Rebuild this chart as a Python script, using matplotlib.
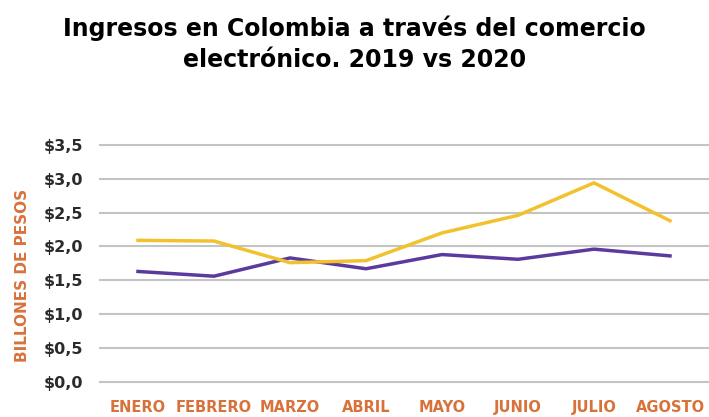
import matplotlib.pyplot as plt
import numpy as np

meses = ["ENERO", "FEBRERO", "MARZO", "ABRIL", "MAYO", "JUNIO", "JULIO", "AGOSTO"]
ingresos_2019 = [1.63, 1.56, 1.83, 1.67, 1.88, 1.81, 1.96, 1.86]
ingresos_2020 = [2.09, 2.08, 1.76, 1.79, 2.20, 2.46, 2.94, 2.38]
yticks = [0.0, 0.5, 1.0, 1.5, 2.0, 2.5, 3.0, 3.5]

naranja = "#D9713A"

fig = plt.figure(figsize=(7.09, 4.17), dpi=100)
ax = fig.add_axes([100 / 709, 1 - 381.7 / 417, 608 / 709, 236.7 / 417])

x = np.arange(len(meses))
ax.plot(x, ingresos_2019, color="#5B3A9E", linewidth=2.5, solid_joinstyle="miter")
ax.plot(x, ingresos_2020, color="#F2C22E", linewidth=2.5, solid_joinstyle="miter")

ax.set_xlim(-0.5, 7.5)
ax.set_ylim(0, 3.5)
ax.set_yticks(yticks)
ax.set_yticklabels(["$" + f"{v:.1f}".replace(".", ",") for v in yticks],
                   fontsize=11.5, color="#2b2b2b", fontweight="semibold")
ax.set_xticks(x)
ax.set_xticklabels(meses, fontsize=10.5, color=naranja, fontweight="bold")
ax.tick_params(axis="both", length=0)
ax.tick_params(axis="y", pad=12)
ax.tick_params(axis="x", pad=13)

for v in yticks:
    ax.axhline(v, color="#C4C4C4", linewidth=1.5, zorder=0, clip_on=False)

for s in ax.spines.values():
    s.set_visible(False)

ax.set_ylabel("BILLONES DE PESOS", fontsize=11, color=naranja, fontweight="bold")
ax.yaxis.set_label_coords(-0.115, 0.45)

fig.text(0.5, 1 - 28 / 417, "Ingresos en Colombia a través del comercio",
         ha="center", va="center", fontsize=17, fontweight="bold")
fig.text(0.5, 1 - 60 / 417, "electrónico. 2019 vs 2020",
         ha="center", va="center", fontsize=17, fontweight="bold")

fig.savefig("out.png", dpi=100)
